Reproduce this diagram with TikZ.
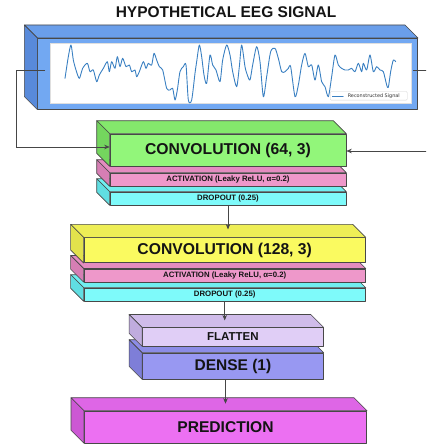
\documentclass[tikz,border=0pt]{standalone}
\usepackage{fontspec}
\setmainfont{Liberation Sans}
\newfontfamily\dvfont{DejaVu Sans}
\usetikzlibrary{arrows.meta}

\definecolor{edgec}{RGB}{72,72,72}
\definecolor{linec}{RGB}{70,70,70}
\definecolor{sigc}{RGB}{58,128,194}
% blue (EEG)
\definecolor{bluF}{RGB}{114,168,242}
\definecolor{bluT}{RGB}{106,158,234}
\definecolor{bluS}{RGB}{88,138,218}
% green
\definecolor{grnF}{RGB}{146,246,122}
\definecolor{grnT}{RGB}{132,232,108}
\definecolor{grnS}{RGB}{116,214,94}
% pink
\definecolor{pnkF}{RGB}{238,152,202}
\definecolor{pnkT}{RGB}{228,140,192}
\definecolor{pnkS}{RGB}{214,126,180}
% cyan
\definecolor{cyaF}{RGB}{126,250,250}
\definecolor{cyaT}{RGB}{112,238,240}
\definecolor{cyaS}{RGB}{96,222,226}
% yellow
\definecolor{yelF}{RGB}{250,250,96}
\definecolor{yelT}{RGB}{238,238,86}
\definecolor{yelS}{RGB}{226,226,76}
% lavender
\definecolor{lavF}{RGB}{224,206,246}
\definecolor{lavT}{RGB}{208,188,234}
\definecolor{lavS}{RGB}{192,172,222}
% dense
\definecolor{denF}{RGB}{152,152,242}
\definecolor{denT}{RGB}{140,140,230}
\definecolor{denS}{RGB}{126,126,216}
% prediction
\definecolor{preF}{RGB}{236,112,242}
\definecolor{preT}{RGB}{222,102,230}
\definecolor{preS}{RGB}{204,88,212}

\tikzset{
  face/.style={draw=edgec, line width=0.6pt, line join=round},
  frontface/.style={face, inner sep=0pt, text=black!92},
  arr/.style={draw=linec, line width=0.6pt, -{Stealth[length=5.5pt,width=4.5pt]}},
  sig/.style={draw=sigc, line width=0.9pt, line join=round, line cap=round},
}

% #1 name, #2 cx, #3 cy, #4 w, #5 h, #6 colour prefix, #7 font, #8 text
\newcommand{\cuboid}[8]{%
  \node[frontface, minimum width=#4pt, minimum height=#5pt, fill=#6F, font=#7] (#1) at (#2,#3) {#8};
  \path[face, fill=#6T] (#1.north west) -- (#1.north east)
     -- ([shift={(-13,-13)}]#1.north east) -- ([shift={(-13,-13)}]#1.north west) -- cycle;
  \path[face, fill=#6S] (#1.north west) -- (#1.south west)
     -- ([shift={(-13,-13)}]#1.south west) -- ([shift={(-13,-13)}]#1.north west) -- cycle;
}

\begin{document}
\begin{tikzpicture}[x=1pt, y=-1pt]
\useasboundingbox (0,0) rectangle (426,444);
\clip (0,0) rectangle (426,444);

% title
\node[font=\bfseries\fontsize{15.5}{18}\selectfont, text=black!92] (title) at (226,12.2) {HYPOTHETICAL EEG SIGNAL};

% EEG block
\cuboid{eeg}{227.7}{73.8}{380}{71}{blu}{\small}{}
\node[fill=white, draw=gray!25, line width=0.3pt, minimum width=360.7pt, minimum height=60.6pt, inner sep=0pt] (plot) at (230.35,73) {};
\begin{scope}[scale=1/3]
\draw[sig] plot[smooth, tension=0.45] coordinates {
(195,235) (205,170) (213,135) (220,180) (228,210) (238,235) (248,205) (262,190) (270,215) (280,210)
(290,245) (298,225) (310,205) (322,185) (328,215) (335,185) (345,205) (352,170) (360,200) (368,175)
(378,200) (388,195) (395,215) (405,210) (410,230) (418,215) (430,185) (438,205) (445,190) (455,195)
(462,160) (470,180) (478,200) (488,210) (500,265) (510,270) (518,265) (525,300) (532,270) (540,215)
(550,200) (558,195) (565,300) (575,300) (585,220) (590,185) (598,135) (605,170) (612,225) (620,250)
(630,165) (638,195) (648,210) (660,245) (668,180) (680,135) (690,165) (698,215) (710,260) (718,200)
(725,135) (735,200) (742,225) (750,240) (758,195) (770,140) (780,185) (790,290) (800,230) (812,155)
(825,145) (835,175) (845,215) (855,215) (865,205) (872,200) (885,290) (895,255) (905,195) (915,160)
(925,200) (935,195) (945,240) (955,195) (965,245) (975,260) (985,290) (995,230) (1005,165) (1015,195)
(1025,205) (1035,210) (1045,210) (1055,205) (1065,215) (1075,190) (1085,215) (1090,190) (1100,210)
(1110,165) (1120,215) (1130,200) (1140,210) (1150,215) (1160,255) (1165,262) (1172,215) (1180,180) (1187,185)};
\end{scope}
\node[draw=gray!35, fill=white, rounded corners=1pt, line width=0.3pt, minimum width=77pt, minimum height=8.6pt, inner sep=0pt] (legend) at (368.7,95.8) {};
\coordinate (legA) at (332.3,95.8);
\coordinate (legB) at (343.3,95.8);
\draw[sig, line width=0.6pt] (legA) -- (legB);
\node[font=\dvfont\fontsize{4.9}{6}\selectfont, text=black!80, inner sep=0pt, anchor=west] (legtext) at (347.6,95.9) {Reconstructed Signal};

% first convolution group (bottom first)
\cuboid{drop1}{228}{198.5}{236}{13}{cya}{\bfseries\fontsize{7.8}{9}\selectfont}{DROPOUT (0.25)}
\cuboid{act1}{228}{179.5}{236}{13}{pnk}{\bfseries\fontsize{7.8}{9}\selectfont}{ACTIVATION (Leaky ReLU, α=0.2)}
\cuboid{conv1}{228}{150}{236}{32}{grn}{\bfseries\fontsize{15.7}{18}\selectfont}{CONVOLUTION (64, 3)}

% second convolution group
\cuboid{drop2}{224.7}{294.5}{281.5}{13}{cya}{\bfseries\fontsize{7.8}{9}\selectfont}{DROPOUT (0.25)}
\cuboid{act2}{224.7}{275.3}{281.5}{13}{pnk}{\bfseries\fontsize{7.8}{9}\selectfont}{ACTIVATION (Leaky ReLU, α=0.2)}
\cuboid{conv2}{224.7}{250.2}{281.5}{25}{yel}{\bfseries\fontsize{15.7}{18}\selectfont}{CONVOLUTION (128, 3)}

% flatten / dense
\cuboid{dense}{232.9}{366}{181}{26}{den}{\bfseries\fontsize{15.5}{18}\selectfont}{DENSE (1)}
\cuboid{flat}{232.9}{336.9}{181}{18.3}{lav}{\bfseries\fontsize{11.5}{13}\selectfont}{FLATTEN}

% prediction
\cuboid{pred}{225.5}{427}{282.4}{32}{pre}{\bfseries\fontsize{15.6}{18}\selectfont}{PREDICTION}

% connectors
\coordinate (eegL) at (45,70);
\coordinate (eegR) at (413.3,70.7);
\draw[arr] (eegL) -- ++(-28.3,0) |- ([yshift=3pt]conv1.west);
\draw[arr] (eegR) -- ++(35,0) |- ([yshift=-1pt]conv1.east);
\draw[arr] (drop1.south) -- ([yshift=8pt]drop1.south |- conv2.north);
\draw[arr] (drop2.south) -- ([yshift=7pt]drop2.south |- flat.north);
\draw[arr] (dense.south -| pred.north) -- ([yshift=7pt]pred.north);
\end{tikzpicture}
\end{document}
